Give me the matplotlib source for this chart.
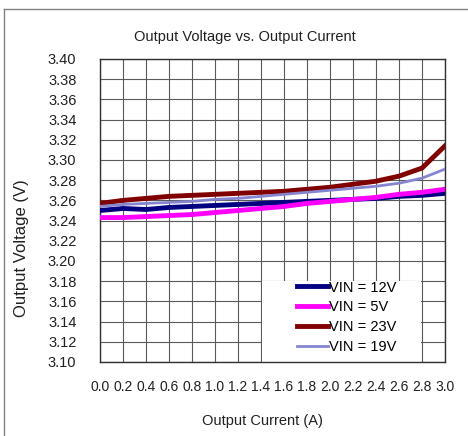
import numpy as np
import matplotlib
matplotlib.use("Agg")
import matplotlib.pyplot as plt
from matplotlib.patches import Rectangle
from matplotlib.lines import Line2D

plt.rcParams['font.family'] = ['Liberation Sans', 'DejaVu Sans']

# data
current = [0.0, 0.2, 0.4, 0.6, 0.8, 1.0, 1.2, 1.4, 1.6, 1.8, 2.0, 2.2, 2.4, 2.6, 2.8, 3.0]
vin_12 = [3.250, 3.252, 3.251, 3.253, 3.254, 3.255, 3.256, 3.257, 3.258, 3.259,
          3.260, 3.261, 3.262, 3.264, 3.265, 3.267]
vin_5 = [3.243, 3.243, 3.244, 3.245, 3.246, 3.248, 3.250, 3.252, 3.254, 3.257,
         3.259, 3.261, 3.263, 3.266, 3.268, 3.271]
vin_23 = [3.257, 3.260, 3.262, 3.264, 3.265, 3.266, 3.267, 3.268, 3.269, 3.271,
          3.273, 3.276, 3.279, 3.284, 3.292, 3.314]
vin_19 = [3.254, 3.256, 3.257, 3.258, 3.259, 3.261, 3.262, 3.264, 3.266, 3.268,
          3.270, 3.272, 3.274, 3.277, 3.282, 3.291]

x_ticks = current
y_ticks = [3.10 + 0.02 * i for i in range(16)]

W, H = 468, 436
fig = plt.figure(figsize=(W / 100, H / 100), dpi=100)
ax = fig.add_axes([100 / W, 1 - 362 / H, 345 / W, 303 / H])

# outer frame (only top and left edges show in the reference)
fig.add_artist(Line2D([4 / W, 4 / W], [0, 1 - 9 / H], color='#808080', lw=1))
fig.add_artist(Line2D([4 / W, 1], [1 - 9 / H, 1 - 9 / H], color='#808080', lw=1))

ax.set_xlim(0, 3.0)
ax.set_ylim(3.10, 3.40)
ax.set_xticks(x_ticks)
ax.set_xticklabels(['%.1f' % v for v in x_ticks])
ax.set_yticks(y_ticks)
ax.set_yticklabels(['%.2f' % v for v in y_ticks])
ax.tick_params(length=0, colors='#202020')
ax.tick_params(axis='x', pad=13, labelsize=10)
ax.tick_params(axis='y', pad=17, labelsize=10.5)
ax.grid(True, color='#5a5a5a', lw=0.8)
for s in ax.spines.values():
    s.set_color('#303030')
    s.set_linewidth(1)

# white legend area covering the grid
ax.add_patch(Rectangle((0.4696, 0), 0.4609, 0.267, transform=ax.transAxes,
                       facecolor='white', edgecolor='none', zorder=2))

ax.plot(current, vin_12, color='#000080', lw=3.5, label='VIN = 12V', zorder=3)
ax.plot(current, vin_5, color='#FF00FF', lw=3.5, label='VIN = 5V', zorder=3)
ax.plot(current, vin_23, color='#800000', lw=3.5, label='VIN = 23V', zorder=3)
ax.plot(current, vin_19, color='#8585D0', lw=2, label='VIN = 19V', zorder=3)

leg = ax.legend(loc='lower left', bbox_to_anchor=(0.54, -0.01), frameon=False,
                fontsize=10.5, handlelength=2.1, handletextpad=0.1,
                labelspacing=0.4, borderpad=0.25)
leg.set_zorder(4)

fig.text(245 / W, 1 - 37 / H, 'Output Voltage vs. Output Current',
         ha='center', va='center', fontsize=10.5, color='#202020')
fig.text(262 / W, 1 - 421 / H, 'Output Current (A)',
         ha='center', va='center', fontsize=10.5, color='#202020')
fig.text(22 / W, 1 - 248 / H, 'Output Voltage (V)', rotation=90,
         ha='center', va='center', fontsize=12, color='#202020')

fig.savefig('out.png', dpi=100)
